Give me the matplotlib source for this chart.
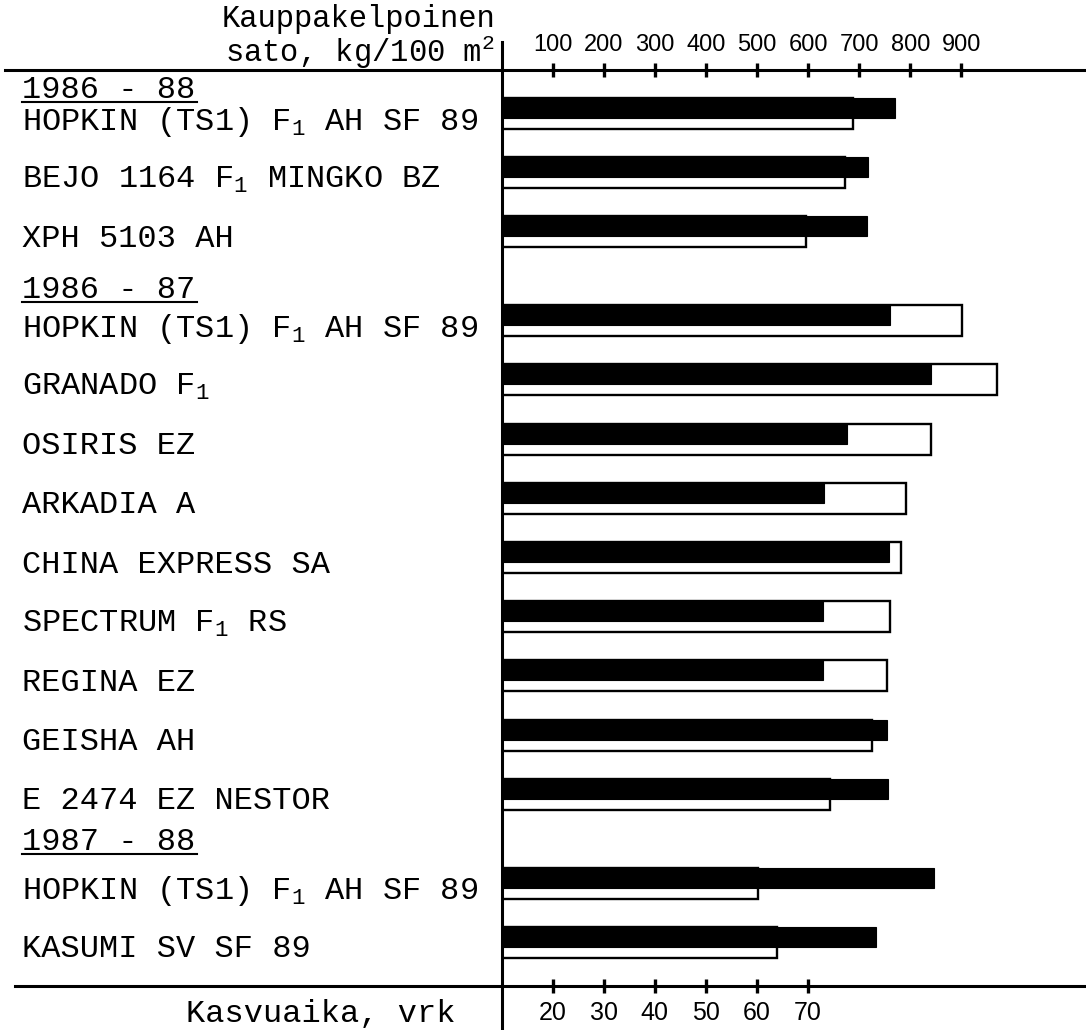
import matplotlib
matplotlib.use("Agg")
import matplotlib.pyplot as plt
from matplotlib.lines import Line2D
from matplotlib.transforms import blended_transform_factory
import numpy as np

# ---------------- data ----------------
categories = [
    "HOPKIN (TS1) F$_1$ AH SF 89",
    "BEJO 1164 F$_1$ MINGKO BZ",
    "XPH 5103 AH",
    "HOPKIN (TS1) F$_1$ AH SF 89",
    "GRANADO F$_1$",
    "OSIRIS EZ",
    "ARKADIA A",
    "CHINA EXPRESS SA",
    "SPECTRUM F$_1$ RS",
    "REGINA EZ",
    "GEISHA AH",
    "E 2474 EZ NESTOR",
    "HOPKIN (TS1) F$_1$ AH SF 89",
    "KASUMI SV SF 89",
]
group_labels = ["1986 - 88", "1986 - 87", "1987 - 88"]
group_sizes = [3, 9, 2]
yield_kg = [770, 717, 715, 760, 840, 677, 632, 758, 630, 630, 755, 757, 847, 733]
growth_days = [78.7, 77.2, 69.6, 100.1, 106.9, 94.0, 89.1, 88.2, 86.0, 85.5, 82.6, 74.2, 60.1, 64.0]
yield_ticks = [100, 200, 300, 400, 500, 600, 700, 800, 900]
day_ticks = [20, 30, 40, 50, 60, 70]

# ---------------- layout ----------------
W, H = 1086, 1030
AX_L, AX_R, AX_T, AX_B = 501.5, 1086, 70, 986
ROW_PX = 59.2
ROW0_PX = 113.5
PX_PER_KG = 0.511
PAIR_H = 31 / ROW_PX
BLACK_H = 20 / ROW_PX
header_offsets = [0.45, 0.57, 0.76]

mono = "Liberation Mono"
plt.rcParams["mathtext.fontset"] = "custom"
plt.rcParams["mathtext.rm"] = mono
plt.rcParams["mathtext.it"] = mono
plt.rcParams["mathtext.bf"] = mono

fig = plt.figure(figsize=(W / 100, H / 100), dpi=100)
ax = fig.add_axes([AX_L / W, 1 - AX_B / H, (AX_R - AX_L) / W, (AX_B - AX_T) / H])
kg_max = (AX_R - AX_L) / PX_PER_KG
ax.set_xlim(10, 10 + kg_max / 10)
ax.set_ylim((AX_B - ROW0_PX) / ROW_PX, (AX_T - ROW0_PX) / ROW_PX)
axk = ax.twiny()
axk.set_xlim(0, kg_max)

# row positions
ys = []
idx = 0
first_rows = []
for g, n in enumerate(group_sizes):
    for i in range(n):
        if i == 0:
            first_rows.append(idx + 0.5 * g)
        ys.append(idx + 0.5 * g)
        idx += 1
ys = np.array(ys)
days = np.array(growth_days)

ax.barh(ys, days - 10, left=10, height=PAIR_H, color="white",
        edgecolor="black", linewidth=1.7, zorder=2)
axk.barh(ys - (PAIR_H - BLACK_H) / 2, yield_kg, height=BLACK_H, color="black",
         edgecolor="black", linewidth=0.8, zorder=3)

for a in (ax, axk):
    for s in a.spines.values():
        s.set_visible(False)
    a.set_yticks([])

axk.xaxis.set_ticks_position("top")
axk.set_xticks(yield_ticks)
axk.set_xticklabels([str(t) for t in yield_ticks])
axk.tick_params(axis="x", direction="inout", length=10, width=2.4, pad=5,
                labelsize=17, labelfontfamily=["Liberation Sans Narrow", "Liberation Sans"])
ax.xaxis.set_ticks_position("bottom")
ax.set_xticks(day_ticks)
ax.set_xticklabels([str(t) for t in day_ticks])
ax.tick_params(axis="x", direction="inout", length=10, width=2.4, pad=6,
               labelsize=18, labelfontfamily=["Liberation Sans", "DejaVu Sans"])

# frame lines
lw = 2.2
fig.add_artist(Line2D([5 / W, 1], [1 - AX_T / H] * 2, color="black", lw=lw))
fig.add_artist(Line2D([15 / W, 1], [1 - AX_B / H] * 2, color="black", lw=lw))
fig.add_artist(Line2D([AX_L / W] * 2, [1 - 42 / H, 0], color="black", lw=lw))

# labels
trans = blended_transform_factory(fig.transFigure, ax.transData)
for y, name in zip(ys, categories):
    ax.text(22 / W, y + 0.06, name, transform=trans, ha="left",
            va="center_baseline", fontsize=23, family=mono)
for fy, off, lab in zip(first_rows, header_offsets, group_labels):
    hy = fy - off
    ax.text(22 / W, hy, lab, transform=trans, ha="left",
            va="center_baseline", fontsize=23, family=mono)
    ax.plot([22 / W, 197 / W], [hy + 0.26] * 2, transform=trans,
            color="black", lw=1.5, clip_on=False)

fig.text(495 / W, 1 - 16 / H, "Kauppakelpoinen", ha="right",
         va="center_baseline", fontsize=22, family=mono)
fig.text(495 / W, 1 - 48 / H, "sato, kg/100 m$^2$", ha="right",
         va="center_baseline", fontsize=22, family=mono)
fig.text(321 / W, 1 - 1011 / H, "Kasvuaika, vrk", ha="center",
         va="center_baseline", fontsize=23, family=mono)

fig.savefig("out.png", dpi=100, facecolor="white")
